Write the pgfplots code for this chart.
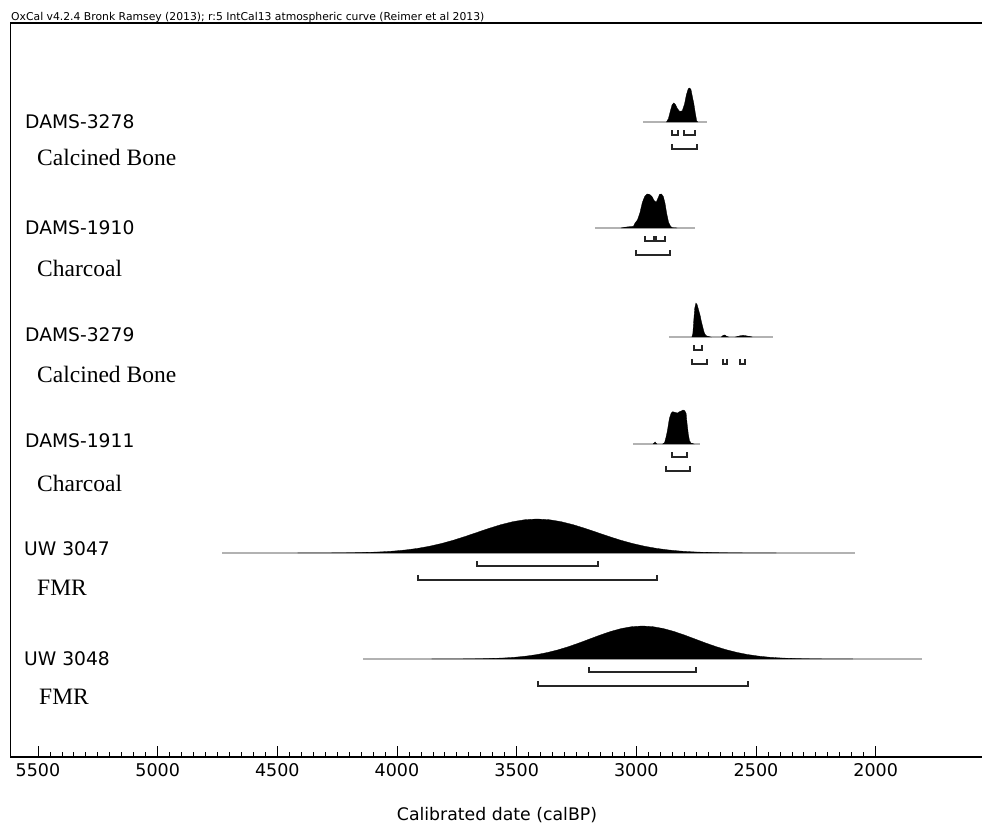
\documentclass[border=0pt]{standalone}
\usepackage{pgfplots}
\pgfplotsset{compat=1.18}
\usepackage{pgfplotstable}
\usepackage{fontspec}
\setmainfont{Liberation Serif}
\newfontfamily\dejavu{DejaVu Sans}

% Calibrated probability distributions: calendar year (calBP) and relative density
\pgfplotstableread{
yr d
2874 0
2866 0.10
2858 0.32
2851 0.50
2844 0.56
2837 0.52
2829 0.40
2819 0.31
2808 0.33
2799 0.52
2791 0.80
2783 0.98
2778 1.00
2772 0.96
2766 0.75
2760 0.55
2754 0.28
2748 0.04
2744 0
}\damsA

\pgfplotstableread{
yr d
3065 0
3040 0.03
3012 0.05
3005 0.15
2995 0.24
2985 0.45
2975 0.75
2965 0.93
2955 1.00
2945 0.99
2935 0.93
2925 0.80
2917 0.76
2910 0.87
2903 0.99
2895 1.00
2887 0.92
2880 0.72
2873 0.42
2865 0.16
2857 0.05
2850 0.01
2830 0
}\damsB

\pgfplotstableread{
yr d
2768 0
2764 0.10
2760 0.50
2756 0.85
2751 1.00
2746 0.95
2740 0.80
2734 0.65
2728 0.45
2722 0.28
2716 0.12
2710 0.05
2702 0.02
2690 0
}\damsC

\pgfplotstableread{
yr d
2645 0
2637 0.05
2630 0.06
2623 0.02
2615 0
}\damsCb

\pgfplotstableread{
yr d
2585 0
2570 0.03
2555 0.05
2545 0.04
2530 0.02
2515 0
}\damsCc

\pgfplotstableread{
yr d
2890 0
2882 0.04
2876 0.20
2870 0.40
2862 0.75
2855 0.90
2848 0.95
2838 0.93
2828 0.91
2820 0.95
2812 0.97
2805 1.00
2798 0.98
2792 0.90
2788 0.60
2783 0.30
2778 0.10
2772 0.03
2760 0
}\damsD

\pgfplotstableread{
yr d
2930 0
2922 0.06
2914 0
}\damsDb

\pgfplotstableread{
yr d
4415 0
4265 0.003
4165 0.011
4115 0.020
4065 0.034
4015 0.056
3965 0.089
3915 0.135
3865 0.198
3815 0.278
3765 0.375
3715 0.487
3665 0.607
3615 0.726
3565 0.835
3515 0.923
3465 0.980
3415 1.000
3365 0.980
3315 0.923
3265 0.835
3215 0.726
3165 0.607
3115 0.487
3065 0.375
3015 0.278
2965 0.198
2915 0.135
2865 0.089
2815 0.056
2765 0.034
2715 0.020
2665 0.011
2565 0.003
2415 0
}\uwA

\pgfplotstableread{
yr d
3855 0
3723 0.003
3635 0.011
3591 0.020
3547 0.034
3503 0.056
3459 0.089
3415 0.135
3371 0.198
3327 0.278
3283 0.375
3239 0.487
3195 0.607
3151 0.726
3107 0.835
3063 0.923
3019 0.980
2975 1.000
2931 0.980
2887 0.923
2843 0.835
2799 0.726
2755 0.607
2711 0.487
2667 0.375
2623 0.278
2579 0.198
2535 0.135
2491 0.089
2447 0.056
2403 0.034
2359 0.020
2315 0.011
2227 0.003
2095 0
}\uwB

\begin{document}
\begin{tikzpicture}
\useasboundingbox (0,0) rectangle (982bp,825bp);
\begin{axis}[
  at={(10.5bp,68bp)}, anchor=south west,
  scale only axis, width=979.5bp, height=734bp,
  xmin=1522.4, xmax=5614.9, x dir=reverse,
  ymin=0, ymax=734,
  ytick=\empty,
  xtick={2000,2500,...,5500},
  minor x tick num=9,
  xtick pos=bottom,
  tick align=inside,
  major tick length=11bp,
  minor tick length=5bp,
  every tick/.style={black, line width=0.8bp},
  axis line style={line width=1.5bp},
  /pgf/number format/assume math mode=true,
  /pgf/number format/1000 sep={},
  xticklabel style={font=\dejavu\fontsize{17.5bp}{20bp}\selectfont, inner sep=0pt, yshift=-6bp},
  tail/.style={black!30, line width=1.1bp},
  density/.style={fill=black, draw=black, line width=0.3bp},
  bracket/.style={black!85, line width=2bp, line join=miter},
]
% DAMS-3278
\addplot[tail] coordinates {(2972,635) (2705,635)};
\addplot[density] table[x=yr, y expr={635+34*\thisrow{d}}] {\damsA} -- cycle;
\addplot[bracket] coordinates {(2849,626.5) (2849,621.5) (2828,621.5) (2828,626.5)};
\addplot[bracket] coordinates {(2799,626.5) (2799,621.5) (2756,621.5) (2756,626.5)};
\addplot[bracket] coordinates {(2853,613) (2853,608) (2748,608) (2748,613)};
% DAMS-1910
\addplot[tail] coordinates {(3173,529) (2755,529)};
\addplot[density] table[x=yr, y expr={529+34*\thisrow{d}}] {\damsB} -- cycle;
\addplot[bracket] coordinates {(2964,520.5) (2964,515.5) (2928,515.5) (2928,520.5)};
\addplot[bracket] coordinates {(2918,520.5) (2918,515.5) (2880,515.5) (2880,520.5)};
\addplot[bracket] coordinates {(3001,507) (3001,502) (2859,502) (2859,507)};
% DAMS-3279
\addplot[tail] coordinates {(2864,420) (2429,420)};
\addplot[density] table[x=yr, y expr={420+34*\thisrow{d}}] {\damsC} -- cycle;
\addplot[density] table[x=yr, y expr={420+34*\thisrow{d}}] {\damsCb} -- cycle;
\addplot[density] table[x=yr, y expr={420+34*\thisrow{d}}] {\damsCc} -- cycle;
\addplot[bracket] coordinates {(2758,411.5) (2758,406.5) (2724,406.5) (2724,411.5)};
\addplot[bracket] coordinates {(2769,398) (2769,393) (2703,393) (2703,398)};
\addplot[bracket] coordinates {(2640,398) (2640,393) (2623,393) (2623,398)};
\addplot[bracket] coordinates {(2569,398) (2569,393) (2546,393) (2546,398)};
% DAMS-1911
\addplot[tail] coordinates {(3014,313) (2734,313)};
\addplot[density] table[x=yr, y expr={313+34*\thisrow{d}}] {\damsD} -- cycle;
\addplot[density] table[x=yr, y expr={313+34*\thisrow{d}}] {\damsDb} -- cycle;
\addplot[bracket] coordinates {(2853,304.5) (2853,299.5) (2788,299.5) (2788,304.5)};
\addplot[bracket] coordinates {(2876,291) (2876,286) (2776,286) (2776,291)};
% UW 3047
\addplot[tail] coordinates {(4731,204) (2086,204)};
\addplot[density] table[x=yr, y expr={204+34*\thisrow{d}}] {\uwA} -- cycle;
\addplot[bracket] coordinates {(3666,195.5) (3666,190.5) (3160,190.5) (3160,195.5)};
\addplot[bracket] coordinates {(3912,182) (3912,177) (2914,177) (2914,182)};
% UW 3048
\addplot[tail] coordinates {(4142,98) (1807,98)};
\addplot[density] table[x=yr, y expr={98+33*\thisrow{d}}] {\uwB} -- cycle;
\addplot[bracket] coordinates {(3198,89.5) (3198,84.5) (2751,84.5) (2751,89.5)};
\addplot[bracket] coordinates {(3411,76) (3411,71) (2534,71) (2534,76)};
\end{axis}

% header line above the frame
\node[anchor=base west, inner sep=0pt, font=\dejavu\fontsize{10.8bp}{12bp}\selectfont]
  at (11bp,804.5bp) {OxCal v4.2.4 Bronk Ramsey (2013); r:5 IntCal13 atmospheric curve (Reimer et al 2013)};

% sample names and materials
\begin{scope}[every node/.style={anchor=west, inner sep=0pt}]
\tikzset{nm/.style={font=\dejavu\fontsize{18.7bp}{21bp}\selectfont},
         mt/.style={font=\fontsize{23.5bp}{27bp}\selectfont}}
\node[nm] at (25bp,703bp) {DAMS-3278};
\node[mt] at (37bp,668bp) {Calcined Bone};
\node[nm] at (25bp,597bp) {DAMS-1910};
\node[mt] at (37bp,557bp) {Charcoal};
\node[nm] at (25bp,490bp) {DAMS-3279};
\node[mt] at (37bp,451bp) {Calcined Bone};
\node[nm] at (25bp,384bp) {DAMS-1911};
\node[mt] at (37bp,342bp) {Charcoal};
\node[nm] at (24bp,276bp) {UW 3047};
\node[mt] at (37bp,237bp) {FMR};
\node[nm] at (24bp,166bp) {UW 3048};
\node[mt] at (39bp,128bp) {FMR};
\end{scope}

\node[inner sep=0pt, font=\dejavu\fontsize{17.3bp}{20bp}\selectfont] at (497bp,10bp) {Calibrated date (calBP)};
\end{tikzpicture}
\end{document}
